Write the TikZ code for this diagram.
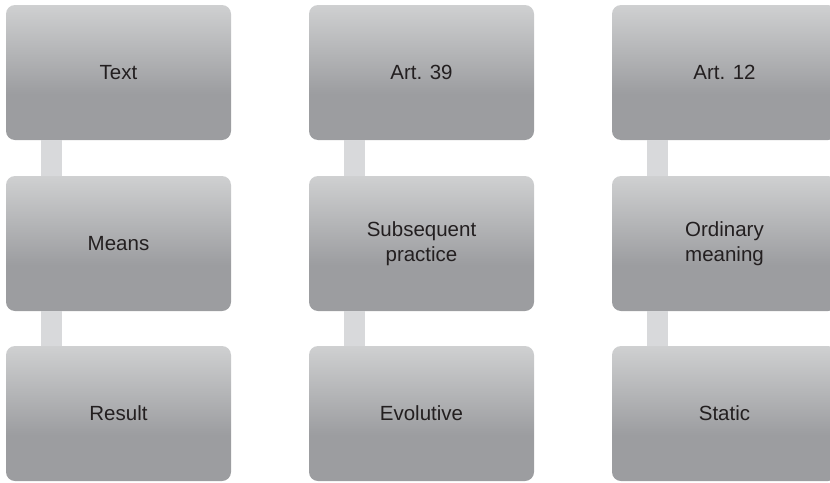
\documentclass[tikz,border=0pt]{standalone}
\usepackage{fontspec}
\setmainfont{Liberation Sans}
\definecolor{boxlight}{HTML}{CFD0D1}
\definecolor{boxdark}{HTML}{9C9DA0}
\definecolor{linkgray}{HTML}{D8D9DB}
\definecolor{inkgray}{HTML}{231F20}
% light at the top, darkening to a flat band over the lower third
\pgfdeclareverticalshading{cardshade}{100bp}{%
  color(0bp)=(boxdark); color(25bp)=(boxdark); color(42bp)=(boxdark);
  color(75bp)=(boxlight); color(100bp)=(boxlight)}
\tikzset{
  card/.style={rectangle, rounded corners=9pt, shading=cardshade,
    minimum width=225pt, minimum height=135pt, inner sep=0pt,
    align=center, text=inkgray, font=\fontsize{20.5}{25}\selectfont},
  link/.style={fill=linkgray, draw=none}
}
\begin{document}
\begin{tikzpicture}[x=1pt,y=-1pt]
  \useasboundingbox (0,0) rectangle (830,482);
  \clip (0,0) rectangle (830,482);
  % first column
  \node[card] (a1) at (118.5,72.5) {Text};
  \node[card] (a2) at (118.5,243.5) {Means};
  \node[card] (a3) at (118.5,413.5) {Result};
  % second column
  \node[card] (b1) at (421.5,72.5) {Art. 39};
  \node[card] (b2) at (421.5,243.5) {Subsequent\\practice};
  \node[card] (b3) at (421.5,413.5) {Evolutive};
  % third column
  \node[card] (c1) at (724.5,72.5) {Art. 12};
  \node[card] (c2) at (724.5,243.5) {Ordinary\\meaning};
  \node[card] (c3) at (724.5,413.5) {Static};
  % bars joining the cards of each column, filling the gap between them
  \foreach \c in {a,b,c}{
    \fill[link] ([xshift=35pt]\c1.south west) rectangle ([xshift=56pt]\c2.north west);
    \fill[link] ([xshift=35pt]\c2.south west) rectangle ([xshift=56pt]\c3.north west);
  }
\end{tikzpicture}
\end{document}
